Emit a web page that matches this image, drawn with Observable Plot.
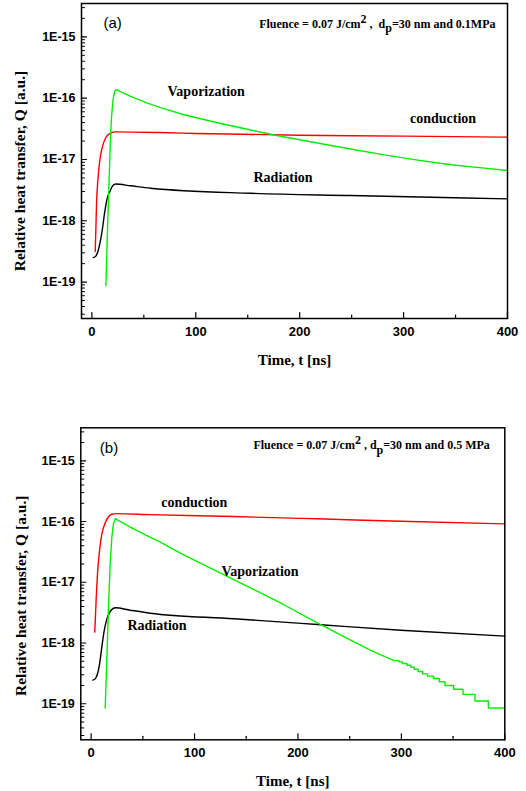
<!DOCTYPE html>
<html><head><meta charset="utf-8">
<script src="https://cdn.jsdelivr.net/npm/d3@7"></script>
<script src="https://cdn.jsdelivr.net/npm/@observablehq/plot@0.6"></script>
<style>
body{margin:0;background:#fff;}
#chart svg{display:block;}
</style></head><body><div id="chart"></div>
<script>
// ---------- data ----------
const seriesNames = ["conduction", "Vaporization", "Radiation"];
const seriesColors = ["#ff0000", "#00f000", "#000000"];
const xTickLabels = [0, 100, 200, 300, 400];
const xMinorTicks = [50, 150, 250, 350];
const yTickLabels = [1e-15, 1e-16, 1e-17, 1e-18, 1e-19];
const yDomain = [2.55e-20, 3.5e-15];
const xTitle = "Time, t [ns]";
const yTitle = "Relative heat transfer, Q [a.u.]";

// panel (a)
const aCondT = [3.2, 3.9, 4.5, 5.8, 7.7, 10, 13.2, 18, 22.8, 66, 100, 200, 300, 400];
const aCondQ = [3.16e-19, 8.13e-19, 1.95e-18, 4.68e-18, 9.89e-18, 1.58e-17, 2.24e-17, 2.69e-17, 2.82e-17, 2.75e-17, 2.66e-17, 2.49e-17, 2.40e-17, 2.31e-17];
const aVapT = [13.5, 14.8, 16.4, 17.4, 18.7, 20.3, 21.9, 23.5, 37.3, 53.4, 66.2, 88.7, 120.9, 153, 175.4, 217, 249, 281.5, 313.6, 345.7, 377.8, 400];
const aVapQ = [8.71e-20, 5.50e-19, 3.63e-18, 1.26e-17, 4.47e-17, 9.33e-17, 1.29e-16, 1.38e-16, 1.07e-16, 8.32e-17, 7.0e-17, 5.37e-17, 3.98e-17, 3.02e-17, 2.51e-17, 1.86e-17, 1.48e-17, 1.19e-17, 9.77e-18, 8.22e-18, 7.24e-18, 6.61e-18];
const aRadT = [1.3, 3.6, 5.8, 7.8, 10, 12.2, 14.8, 17.4, 19.6, 22.8, 37.3, 56.6, 153, 249, 400];
const aRadQ = [2.51e-19, 2.63e-19, 3.16e-19, 4.37e-19, 7.08e-19, 1.33e-18, 2.34e-18, 3.02e-18, 3.63e-18, 3.98e-18, 3.72e-18, 3.40e-18, 2.81e-18, 2.58e-18, 2.28e-18];
const aLabelNames = ["Vaporization", "conduction", "Radiation"];
const aLabelT = [110, 338, 184];
const aLabelQ = [1.30e-16, 4.61e-17, 5.14e-18];
const aTag = "(a)";
const aNote = "Fluence = 0.07 J/cm^2 ,  d_p=30 nm and 0.1MPa";

// panel (b)
const bCondT = [3.5, 4.8, 6.1, 8.1, 10.3, 13.6, 16.8, 20, 24.9, 57.2, 138, 218.7, 299.5, 400];
const bCondQ = [1.51e-18, 5.01e-18, 1.35e-17, 3.31e-17, 6.17e-17, 9.55e-17, 1.20e-16, 1.32e-16, 1.35e-16, 1.30e-16, 1.21e-16, 1.11e-16, 1.01e-16, 9.16e-17];
const bVapT = [13.6, 15.2, 16.8, 18.4, 20.0, 21.6, 23.3, 37.8, 53.9, 66.9, 89.5, 121.8, 154.1, 186.4, 218.7, 251, 270.4, 293,
  297.9, 297.9, 301.1, 301.1, 305.3, 305.3, 309.2, 309.2, 312.4, 312.4, 316.3, 316.3, 320.5, 320.5, 325.3, 325.3, 331.1, 331.1, 336.6, 336.6, 342.1, 342.1, 350.5, 350.5, 359.6, 359.6, 371.2, 371.2, 384.1, 384.1, 400];
const bVapQ = [8.51e-20, 5.75e-19, 3.89e-18, 2.0e-17, 5.50e-17, 9.12e-17, 1.12e-16, 8.13e-17, 5.89e-17, 4.57e-17, 2.82e-17, 1.51e-17, 8.13e-18, 4.27e-18, 2.14e-18, 1.12e-18, 7.59e-19, 5.13e-19,
  5.13e-19, 4.9e-19, 4.9e-19, 4.6e-19, 4.6e-19, 4.3e-19, 4.3e-19, 4.0e-19, 4.0e-19, 3.7e-19, 3.7e-19, 3.4e-19, 3.4e-19, 3.1e-19, 3.1e-19, 2.85e-19, 2.85e-19, 2.6e-19, 2.6e-19, 2.3e-19, 2.3e-19, 2.0e-19, 2.0e-19, 1.73e-19, 1.73e-19, 1.43e-19, 1.43e-19, 1.11e-19, 1.11e-19, 8.51e-20, 8.51e-20];
const bRadT = [1.6, 3.9, 6.1, 8.1, 10.3, 12.6, 15.2, 17.8, 20, 23.3, 37.8, 57.2, 138, 218.7, 299.5, 400];
const bRadQ = [2.45e-19, 2.57e-19, 3.09e-19, 4.47e-19, 8.51e-19, 1.58e-18, 2.48e-18, 3.16e-18, 3.55e-18, 3.80e-18, 3.47e-18, 3.10e-18, 2.51e-18, 2.02e-18, 1.62e-18, 1.30e-18];
const bLabelNames = ["conduction", "Vaporization", "Radiation"];
const bLabelT = [99.7, 163.3, 63.7];
const bLabelQ = [2.03e-16, 1.52e-17, 1.96e-18];
const bTag = "(b)";
const bNote = "Fluence = 0.07 J/cm^2 , d_p=30 nm and 0.5 MPa";

// ---------- helpers ----------
const serif = "'Liberation Serif', 'Times New Roman', serif";
const sans = "'Liberation Sans', Arial, sans-serif";
const yMinorTicks = [];
for (let e = -20; e <= -15; e++) for (let k = 2; k <= 9; k++) {
  const v = k * Math.pow(10, e);
  if (v > yDomain[0] && v < yDomain[1]) yMinorTicks.push(v);
}
const tickShape = {draw(ctx, l) { ctx.moveTo(0, 0); ctx.lineTo(0, -l); }};

function rowsOf(name, T, Q) { return T.map((t, i) => ({series: name, t, q: Q[i]})); }
function labelsOf(N, T, Q) { return N.map((n, i) => ({label: n, t: T[i], q: Q[i]})); }

function panel(cfg) {
  const smooth = [...rowsOf("conduction", cfg.condT, cfg.condQ), ...rowsOf("Radiation", cfg.radT, cfg.radQ)];
  const vap = rowsOf("Vaporization", cfg.vapT, cfg.vapQ);
  const svg = Plot.plot({
    width: 526, height: cfg.height,
    marginTop: cfg.mt, marginBottom: cfg.mb, marginLeft: cfg.ml, marginRight: cfg.mr,
    style: {fontFamily: sans, background: "#fff", color: "#000", overflow: "visible"},
    x: {domain: [-10, 400]},
    y: {type: "log", domain: yDomain},
    color: {domain: seriesNames, range: seriesColors},
    marks: [
      Plot.line(smooth, {x: "t", y: "q", z: "series", stroke: "series", strokeWidth: 1.4, curve: "monotone-x"}),
      Plot.line(vap, {x: "t", y: "q", stroke: "series", strokeWidth: 1.4}),
      Plot.vector(xTickLabels, {x: d => d, frameAnchor: "bottom", length: 6, rotate: 0, anchor: "start", shape: tickShape, strokeWidth: 1.2}),
      Plot.vector(xMinorTicks, {x: d => d, frameAnchor: "bottom", length: 3.5, rotate: 0, anchor: "start", shape: tickShape, strokeWidth: 1.2}),
      Plot.vector(yTickLabels, {y: d => d, frameAnchor: "left", length: 5, rotate: 90, anchor: "start", shape: tickShape, strokeWidth: 1.1}),
      Plot.vector(yMinorTicks, {y: d => d, frameAnchor: "left", length: 3, rotate: 90, anchor: "start", shape: tickShape, strokeWidth: 1}),
      Plot.axisX(xTickLabels, {tickSize: 0, tickPadding: 8, fontSize: 13, fontWeight: "bold", fontFamily: sans, label: null}),
      Plot.axisY(yTickLabels, {tickSize: 0, tickPadding: 6, fontSize: 12.5, fontWeight: "bold", fontFamily: sans, label: null,
        tickFormat: d => "1E" + Math.round(Math.log10(d))}),
      Plot.text(cfg.labels, {x: "t", y: "q", text: "label", fontFamily: serif, fontWeight: "bold", fontSize: 14}),
      Plot.text([cfg.tag], {frameAnchor: "top-left", dx: cfg.tagDx, dy: 20, textAnchor: "start", lineAnchor: "middle", fontFamily: sans, fontSize: 15}),
      Plot.text([cfg.note], {frameAnchor: "top-right", dx: cfg.noteDx, dy: cfg.noteDy, textAnchor: "end", lineAnchor: "middle", fontFamily: serif, fontWeight: "bold", fontSize: 12}),
      Plot.text([xTitle], {frameAnchor: "bottom", dy: cfg.xTitleDy, textAnchor: "middle", lineAnchor: "middle", fontFamily: serif, fontWeight: "bold", fontSize: 15}),
      Plot.text([yTitle], {frameAnchor: "left", rotate: -90, dx: cfg.yTitleDx, dy: cfg.yTitleDy, textAnchor: "middle", lineAnchor: "middle", fontFamily: serif, fontWeight: "bold", fontSize: 15.5}),
      Plot.frame({stroke: "#000", strokeWidth: 1.5})
    ]
  });
  // superscript / subscript in the annotation
  d3.select(svg).selectAll("text").each(function() {
    const s = this.textContent;
    if (!s.startsWith("Fluence")) return;
    const parts = s.split(/(\^.|_.)/).filter(p => p !== "");
    this.textContent = "";
    let shift = 0;
    for (const p of parts) {
      const ts = d3.select(this).append("tspan");
      if (p[0] === "^") { ts.text(p.slice(1)).attr("dy", (-0.45 - shift) + "em"); shift = -0.45; }
      else if (p[0] === "_") { ts.text(p.slice(1)).attr("dy", (0.35 - shift) + "em"); shift = 0.35; }
      else { ts.text(p); if (shift) ts.attr("dy", (-shift) + "em"); shift = 0; }
    }
  });
  return svg;
}

const root = document.getElementById("chart");
root.appendChild(panel({
  height: 395, mt: 3, mb: 77, ml: 81, mr: 19,
  condT: aCondT, condQ: aCondQ, vapT: aVapT, vapQ: aVapQ, radT: aRadT, radQ: aRadQ,
  labels: labelsOf(aLabelNames, aLabelT, aLabelQ),
  tag: aTag, tagDx: 22, note: aNote, noteDx: -12, noteDy: 20.8,
  xTitleDy: 42, yTitleDx: -61, yTitleDy: 10
}));
root.appendChild(panel({
  height: 396, mt: 32.3, mb: 51.7, ml: 80.3, mr: 21.7,
  condT: bCondT, condQ: bCondQ, vapT: bVapT, vapQ: bVapQ, radT: bRadT, radQ: bRadQ,
  labels: labelsOf(bLabelNames, bLabelT, bLabelQ),
  tag: bTag, tagDx: 19, note: bNote, noteDx: -15, noteDy: 17.7,
  xTitleDy: 41, yTitleDx: -60, yTitleDy: 12
}));
</script></body></html>
